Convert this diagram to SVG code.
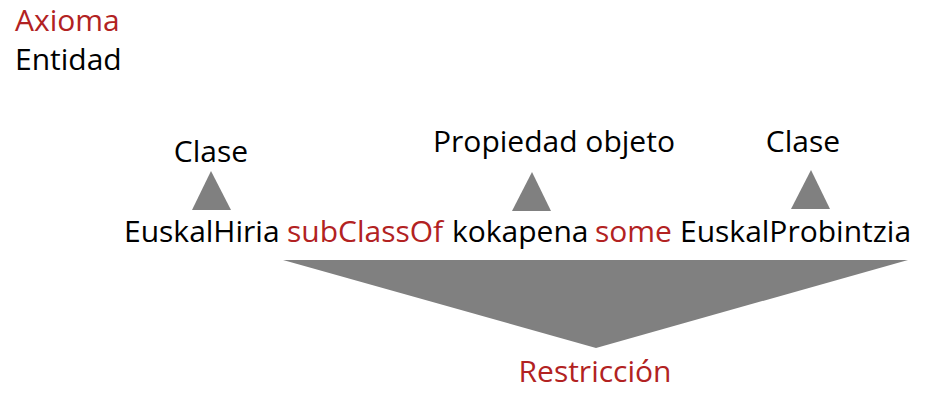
<svg xmlns="http://www.w3.org/2000/svg" width="945" height="411" viewBox="0 0 945 411">
<style>
text{font-family:"Open Sans","Noto Sans",sans-serif;font-size:30px;fill:#000}
.r{fill:#b22222}
.tri{fill:#808080}
.c{text-anchor:middle}
</style>
<rect width="945" height="411" fill="#fff"/>
<g id="legend">
<text x="15" y="31" class="r">Axioma</text>
<text x="15" y="70">Entidad</text>
</g>
<g id="axiom">
<text y="242"><tspan x="124">EuskalHiria</tspan><tspan x="287" class="r">subClassOf</tspan><tspan x="452">kokapena</tspan><tspan x="595" class="r">some</tspan><tspan x="680">EuskalProbintzia</tspan></text>
</g>
<g id="clase1"><text x="211" y="162" class="c">Clase</text></g>
<g id="propiedad"><text x="554" y="152" class="c">Propiedad objeto</text></g>
<g id="clase2"><text x="803" y="152" class="c">Clase</text></g>
<g id="restriccion"><text x="595" y="382" class="c r">Restricción</text></g>
<g id="connectors">
<polygon class="tri" points="211,171 231,210 192,210"/>
<polygon class="tri" points="532,172 551,211 512,211"/>
<polygon class="tri" points="811,170 830,209 791,209"/>
<polygon class="tri" points="283,260 908,260 596,348"/>
</g>
</svg>
